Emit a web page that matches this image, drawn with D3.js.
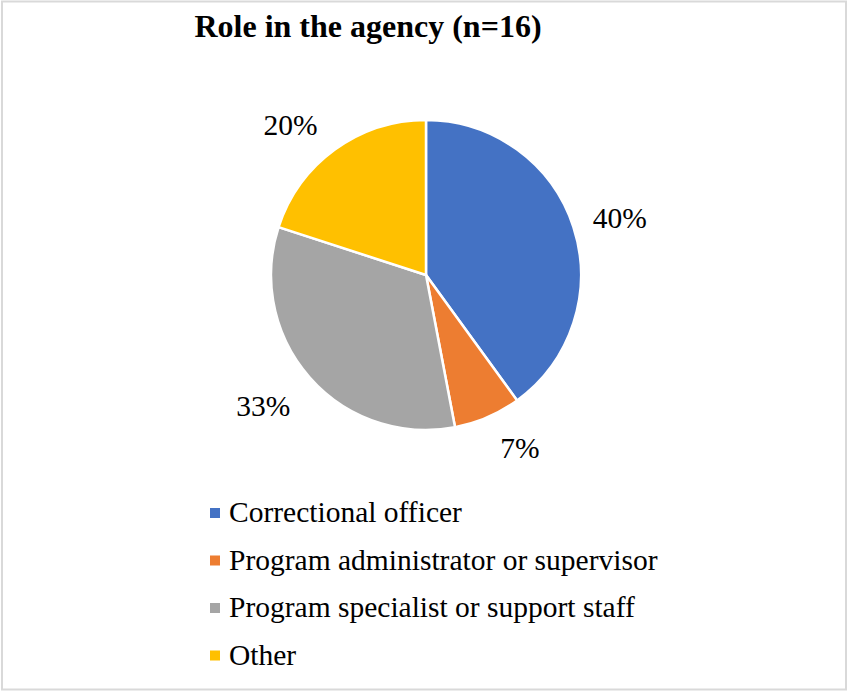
<!DOCTYPE html>
<html>
<head>
<meta charset="utf-8">
<script src="https://cdn.jsdelivr.net/npm/d3@7"></script>
<style>
  html, body { margin: 0; padding: 0; background: #fff; }
  svg { display: block; }
</style>
</head>
<body>
<svg id="chart" width="849" height="692"></svg>
<script>
// Role breakdown of respondents
const categories = ["Correctional officer", "Program administrator or supervisor", "Program specialist or support staff", "Other"];
const values = [40, 7, 33, 20];
const colors = ["#4472C4", "#ED7D31", "#A5A5A5", "#FFC000"];
const title = "Role in the agency (n=16)";

const svg = d3.select("#chart");
const W = 849, H = 692;
const serif = "'Liberation Serif', 'Times New Roman', serif";

// outer frame
svg.append("rect")
  .attr("x", 2).attr("y", 1.5)
  .attr("width", W - 5).attr("height", H - 4)
  .attr("fill", "#fff")
  .attr("stroke", "#d9d9d9").attr("stroke-width", 2);

svg.append("text")
  .attr("x", 368).attr("y", 37)
  .attr("text-anchor", "middle")
  .attr("font-family", serif)
  .attr("font-weight", "bold")
  .attr("font-size", 32)
  .text(title);

const cx = 426, cy = 275, r = 155;
const pie = d3.pie().value(d => d).sort(null);
const arcs = pie(values);
const arc = d3.arc().innerRadius(0).outerRadius(r);

const g = svg.append("g").attr("transform", `translate(${cx},${cy})`);
g.selectAll("path")
  .data(arcs)
  .join("path")
  .attr("d", arc)
  .attr("fill", (d, i) => colors[i])
  .attr("stroke", "#fff")
  .attr("stroke-width", 2.5)
  .attr("stroke-linejoin", "round");

// percentage labels outside the pie, best-fit style:
// each label sits near its slice's mid-angle, nudged slightly to clear neighbours
const labelFit = [
  { dAngle: 1.6, dist: 202 },
  { dAngle: -5.1, dist: 197 },
  { dAngle: 2.5, dist: 209 },
  { dAngle: -6.1, dist: 202 }
];
function labelPos(d, i) {
  const a = (d.startAngle + d.endAngle) / 2 + labelFit[i].dAngle * Math.PI / 180;
  const rr = labelFit[i].dist;
  return [Math.sin(a) * rr, -Math.cos(a) * rr];
}
g.selectAll("text.pct")
  .data(arcs)
  .join("text")
  .attr("class", "pct")
  .attr("transform", (d, i) => `translate(${labelPos(d, i)})`)
  .attr("text-anchor", "middle")
  .attr("dy", "0.33em")
  .attr("font-family", serif)
  .attr("font-size", 29.5)
  .text(d => d.data + "%");

// legend
const legendY = d3.scalePoint().domain(categories).range([522, 664.5]);
const lg = svg.append("g");
const rows = lg.selectAll("g").data(categories).join("g")
  .attr("transform", d => `translate(0,${legendY(d)})`);
rows.append("rect")
  .attr("x", 210).attr("y", -14)
  .attr("width", 10).attr("height", 10)
  .attr("fill", (d, i) => colors[i]);
rows.append("text")
  .attr("x", 229).attr("y", 0)
  .attr("font-family", serif)
  .attr("font-size", 29.5)
  .text(d => d);
</script>
</body>
</html>
